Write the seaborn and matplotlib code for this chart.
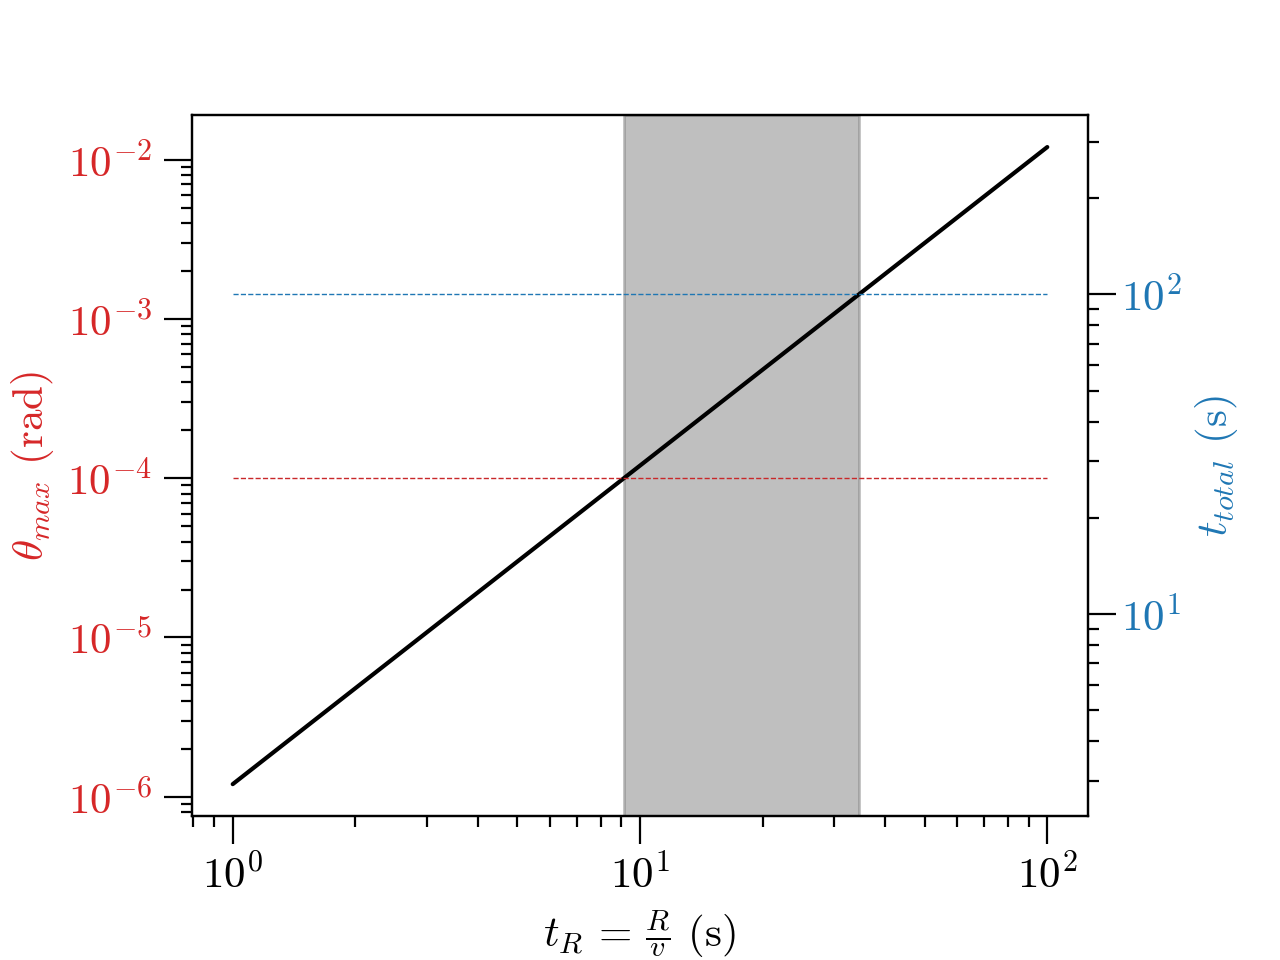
import numpy as np
import pandas as pd
import matplotlib
matplotlib.use("Agg")
import matplotlib.pyplot as plt
import seaborn as sns

# ---- data ----
t_R = [1, 2, 5, 10, 20, 50, 100]                       # s
theta_max = [1.2e-6, 4.8e-6, 3.0e-5, 1.2e-4, 4.8e-4, 3.0e-3, 1.2e-2]  # rad
theta_limit = 1e-4          # red dashed line (left axis)
t_total_limit = 100         # blue dashed line (right axis)
span_lo, span_hi = 9.13, 34.5   # shaded window in t_R
hline_x = [1, 100]
right_ylim = (2.33, 364)

sns.set_style("ticks")
plt.rcParams.update({
    "font.family": ["cmr10", "DejaVu Sans"],
    "mathtext.fontset": "cm",
    "axes.unicode_minus": False,
    "axes.formatter.use_mathtext": True,
    "font.size": 15,
    "text.color": "black",
    "axes.labelcolor": "black",
    "xtick.direction": "out",
    "ytick.direction": "out",
    "xtick.major.size": 10,
    "ytick.major.size": 10,
    "xtick.minor.size": 4,
    "ytick.minor.size": 4,
    "xtick.major.width": 0.8,
    "ytick.major.width": 0.8,
    "xtick.minor.width": 0.8,
    "ytick.minor.width": 0.8,
    "axes.edgecolor": "black",
    "axes.linewidth": 0.8,
    "xtick.color": "black",
    "ytick.color": "black",
})

RED = "#d62728"
BLUE = "#1f77b4"
TFS = 15.5   # tick labels
LFS = 15.5   # axis labels

fig, ax = plt.subplots(figsize=(6.4, 4.8), dpi=200)
fig.subplots_adjust(left=0.15, right=0.85, bottom=0.15, top=0.88)

df = pd.DataFrame({"t_R": t_R, "theta": theta_max})
sns.lineplot(data=df, x="t_R", y="theta", ax=ax, color="black", lw=1.5)
ax.set_xscale("log")
ax.set_yscale("log")

ax.axvspan(span_lo, span_hi, color="gray", alpha=0.5)
ax.hlines(theta_limit, hline_x[0], hline_x[1], colors="#c9282a", linestyles="--", lw=0.5)

ax.set_xlabel(r"$t_R\,=\,\frac{R}{v}$ (s)", fontsize=LFS, color="black")
ax.set_ylabel(r"$\theta_{max}$ (rad)", color=RED, fontsize=LFS)
ax.tick_params(axis="y", which="both", labelcolor=RED, labelsize=TFS, pad=4.5)
ax.tick_params(axis="x", which="both", labelsize=TFS, labelcolor="black")

ax2 = ax.twinx()
ax2.set_yscale("log")
ax2.hlines(t_total_limit, hline_x[0], hline_x[1], colors=BLUE, linestyles="--", lw=0.5)
ax2.set_ylim(*right_ylim)
ax2.set_ylabel(r"$t_{total}$ (s)", color=BLUE, fontsize=LFS)
ax2.tick_params(axis="y", which="both", labelcolor=BLUE, labelsize=TFS,
                direction="out", pad=2)
for sp in ax2.spines.values():
    sp.set_color("black")

fig.savefig("out.png", dpi=200)
